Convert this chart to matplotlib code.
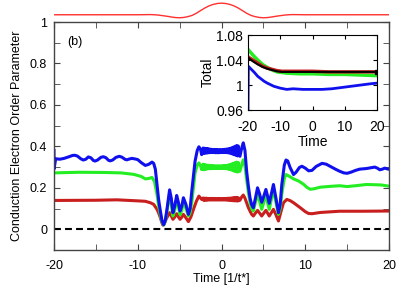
import numpy as np
import matplotlib
matplotlib.use("Agg")
import matplotlib.pyplot as plt
from matplotlib.ticker import MultipleLocator

plt.rcParams['font.family'] = ['Liberation Sans', 'DejaVu Sans']
plt.rcParams['axes.unicode_minus'] = False

# ---- pulse shown above the main panel ----
pulse_t = [-20, -10, -9, -8.5, -8, -7.5, -7, -6.5, -6, -5.5, -5, -4.5, -4, -3.5, -3, -2.5, -2, -1.5, -1, -0.5,
           0, 0.5, 1, 1.5, 2, 2.5, 3, 3.5, 4, 4.5, 5, 5.5, 6, 6.5, 7, 7.5, 8, 8.5, 9, 10, 20]
pulse_v = [0, 0, 0.01, 0.015, 0.0, -0.03, -0.08, -0.13, -0.19, -0.24, -0.26, -0.23, -0.16, -0.05, 0.13, 0.36,
           0.58, 0.76, 0.89, 0.97, 1.0, 0.97, 0.89, 0.76, 0.58, 0.36, 0.13, -0.05, -0.16, -0.23, -0.26, -0.24,
           -0.19, -0.13, -0.08, -0.03, 0.0, 0.015, 0.01, 0, 0]

# ---- main panel: order parameter ----
# fast oscillating plateau in the middle of the pulse, sampled between -2.2 and 2.1
band_t0, band_t1 = -2.2, 2.1
blue_band = [0.392, 0.366, 0.391, 0.367, 0.390, 0.368, 0.389, 0.369, 0.387, 0.370, 0.386, 0.370, 0.385, 0.370,
             0.385, 0.369, 0.385, 0.369, 0.384, 0.369, 0.384, 0.370, 0.384, 0.370, 0.385, 0.370, 0.386, 0.370,
             0.387, 0.369, 0.388, 0.368, 0.390, 0.366, 0.393, 0.363, 0.396, 0.360, 0.400, 0.357, 0.404, 0.354,
             0.402, 0.356]
green_band = [0.314, 0.287, 0.312, 0.289, 0.310, 0.291, 0.309, 0.292, 0.308, 0.292, 0.307, 0.293, 0.307, 0.293,
              0.306, 0.293, 0.306, 0.293, 0.306, 0.293, 0.306, 0.293, 0.306, 0.293, 0.307, 0.293, 0.307, 0.292,
              0.308, 0.291, 0.310, 0.289, 0.312, 0.287, 0.315, 0.284, 0.318, 0.281, 0.321, 0.278, 0.324, 0.276,
              0.322, 0.279]
red_band = [0.151, 0.139, 0.150, 0.140, 0.150, 0.140, 0.149, 0.141, 0.149, 0.141, 0.149, 0.141, 0.149, 0.141,
            0.148, 0.141, 0.148, 0.141, 0.148, 0.141, 0.148, 0.141, 0.148, 0.141, 0.148, 0.141, 0.149, 0.141,
            0.149, 0.140, 0.150, 0.140, 0.150, 0.139, 0.151, 0.138, 0.152, 0.137, 0.153, 0.137, 0.154, 0.136,
            0.152, 0.138]

blue_pre_t = [-20, -20, -19.8, -19.3, -18.8, -18.2, -17.8, -17.5, -17.2, -16.8, -16.5, -16.2, -15.9, -15.6,
              -15.3, -15.1, -14.8, -14.4, -14.1, -13.8, -13.5, -13.3, -13.0, -12.6, -12.2, -11.9, -11.5, -11.3,
              -11.0, -10.7, -10.3, -10.0, -9.6, -9.1, -8.7, -8.3, -8.1, -7.9, -7.7, -7.5, -7.3, -7.1, -6.9,
              -6.7, -6.5, -6.2, -6.0, -5.8, -5.6, -5.35, -5.15, -4.95, -4.75, -4.55, -4.25, -3.95, -3.75,
              -3.55, -3.16, -2.9, -2.7, -2.5, -2.37]
blue_pre_v = [0.38, 0.29, 0.34, 0.338, 0.342, 0.35, 0.356, 0.357, 0.353, 0.34, 0.334, 0.338, 0.349, 0.345,
              0.332, 0.329, 0.334, 0.347, 0.35, 0.345, 0.333, 0.33, 0.334, 0.347, 0.352, 0.348, 0.337, 0.335,
              0.339, 0.342, 0.339, 0.336, 0.322, 0.308, 0.313, 0.324, 0.318, 0.29, 0.216, 0.14, 0.088, 0.04,
              0.022, 0.045, 0.10, 0.19, 0.15, 0.08, 0.11, 0.163, 0.13, 0.088, 0.11, 0.152, 0.12, 0.072, 0.1,
              0.184, 0.328, 0.38, 0.398, 0.385, 0.36]
blue_post_t = [2.2, 2.4, 2.6, 2.8, 3.0, 3.2, 3.4, 3.6, 3.8, 4.05, 4.3, 4.55, 4.8, 5.05, 5.3, 5.5, 5.7, 5.95, 6.2,
               6.5, 6.8, 7.0, 7.2, 7.5, 7.7, 7.9, 8.2, 8.6, 8.9, 9.3, 9.6, 10.0, 10.4, 10.8, 11.3, 12.0, 12.5,
               13.0, 13.6, 14.1, 14.6, 15.0, 15.5, 16.0, 16.5, 17.3, 18.0, 18.3, 18.6, 18.9, 19.2, 19.5, 19.8, 20]
blue_post_v = [0.352, 0.39, 0.417, 0.38, 0.28, 0.21, 0.152, 0.118, 0.104, 0.15, 0.20, 0.17, 0.13, 0.16, 0.192,
               0.16, 0.125, 0.17, 0.216, 0.15, 0.08, 0.12, 0.216, 0.31, 0.334, 0.33, 0.297, 0.264, 0.275, 0.298,
               0.304, 0.295, 0.282, 0.284, 0.303, 0.318, 0.314, 0.303, 0.29, 0.28, 0.272, 0.27, 0.276, 0.284,
               0.29, 0.293, 0.298, 0.30, 0.295, 0.287, 0.29, 0.295, 0.291, 0.29]

green_pre_t = [-20, -17, -14, -12, -10.5, -9.6, -9.1, -8.7, -8.3, -8.0, -7.7, -7.5, -7.3, -7.1, -6.9, -6.7,
               -6.5, -6.2, -6.0, -5.8, -5.6, -5.35, -5.15, -4.95, -4.75, -4.55, -4.25, -3.95, -3.75, -3.55,
               -3.16, -2.9, -2.7, -2.5, -2.37]
green_pre_v = [0.272, 0.275, 0.274, 0.272, 0.265, 0.255, 0.243, 0.245, 0.25, 0.23, 0.168, 0.11, 0.07, 0.035,
               0.02, 0.04, 0.09, 0.17, 0.12, 0.064, 0.09, 0.145, 0.11, 0.07, 0.09, 0.135, 0.1, 0.064, 0.08, 0.13,
               0.272, 0.31, 0.32, 0.305, 0.288]
green_post_t = [2.2, 2.4, 2.6, 2.8, 3.0, 3.2, 3.4, 3.6, 3.8, 4.05, 4.3, 4.55, 4.8, 5.05, 5.3, 5.5, 5.7, 5.95,
                6.2, 6.5, 6.8, 7.0, 7.2, 7.5, 7.7, 8.0, 8.6, 9.2, 9.8, 10.2, 10.6, 11.0, 11.8, 13.0, 14.1, 15.0,
                16.0, 17.3, 19.0, 20]
green_post_v = [0.28, 0.31, 0.335, 0.305, 0.24, 0.18, 0.13, 0.1, 0.088, 0.13, 0.17, 0.135, 0.096, 0.13, 0.165,
                0.13, 0.096, 0.145, 0.19, 0.13, 0.072, 0.1, 0.17, 0.245, 0.264, 0.258, 0.243, 0.233, 0.217,
                0.202, 0.193, 0.195, 0.203, 0.207, 0.21, 0.206, 0.21, 0.216, 0.214, 0.208]

red_pre_t = [-20, -15, -12.5, -10, -9.1, -8.5, -8.1, -7.7, -7.5, -7.3, -7.15, -7.0, -6.8, -6.6, -6.2, -6.0,
             -5.8, -5.6, -5.35, -5.15, -4.95, -4.75, -4.55, -4.25, -3.95, -3.65, -3.35, -3.0, -2.7, -2.5, -2.37]
red_pre_v = [0.139, 0.140, 0.142, 0.137, 0.135, 0.128, 0.12, 0.096, 0.078, 0.056, 0.035, 0.02, 0.03, 0.05, 0.08,
             0.065, 0.048, 0.058, 0.075, 0.06, 0.048, 0.058, 0.072, 0.055, 0.037, 0.06, 0.096, 0.135, 0.16, 0.15,
             0.144]
red_post_t = [2.2, 2.4, 2.6, 2.8, 3.0, 3.2, 3.4, 3.6, 3.8, 4.05, 4.3, 4.55, 4.8, 5.05, 5.3, 5.5, 5.7, 5.95, 6.2,
              6.5, 6.8, 7.1, 7.4, 7.8, 8.2, 8.6, 9.0, 9.4, 10.0, 10.4, 10.8, 11.8, 14.1, 17.0, 20]
red_post_v = [0.14, 0.155, 0.165, 0.15, 0.128, 0.105, 0.088, 0.072, 0.064, 0.078, 0.091, 0.078, 0.064, 0.078,
              0.091, 0.078, 0.064, 0.08, 0.096, 0.07, 0.04, 0.085, 0.128, 0.144, 0.138, 0.128, 0.116, 0.104,
              0.085, 0.076, 0.075, 0.081, 0.087, 0.087, 0.088]

# ---- inset: total ----
ins_blue_t = [-20, -19.9, -18, -17, -15, -14, -12, -10, -8, -6, -3, 0, 3, 6, 9, 12, 15, 18, 20]
ins_blue_v = [0.955, 1.030, 1.020, 1.014, 1.006, 1.003, 0.998, 0.995, 0.993, 0.994, 0.993, 0.993, 0.993, 0.994,
              0.996, 0.998, 1.000, 1.002, 1.003]
ins_t = [-20, -18.5, -17, -15.5, -14, -12.5, -11, -9.5, -8, -4, 0, 5, 10, 15, 20]
ins_red_v = [1.045, 1.040, 1.035, 1.030, 1.027, 1.025, 1.023, 1.022, 1.022, 1.022, 1.022, 1.021, 1.021, 1.021, 1.021]
ins_green_v = [1.057, 1.048, 1.040, 1.033, 1.028, 1.024, 1.021, 1.020, 1.019, 1.018, 1.018, 1.017, 1.017, 1.016, 1.015]
ins_black_v = [1.044, 1.038, 1.033, 1.029, 1.026, 1.024, 1.022, 1.021, 1.021, 1.021, 1.021, 1.021, 1.021, 1.021, 1.021]

BLUE = '#1010ee'
GREEN = '#22ee22'
RED = '#c81e1e'


def series(pre_t, pre_v, band, post_t, post_v):
    bt = np.linspace(band_t0, band_t1, len(band))
    return (np.concatenate([pre_t, bt, post_t]),
            np.concatenate([pre_v, band, post_v]))


fig = plt.figure(figsize=(4.11, 2.88), dpi=100)
ax = fig.add_axes([0.1314, 0.132, 0.8151, 0.7916])
top = fig.add_axes([0.1314, 0.9306, 0.8151, 0.0625])
ins = fig.add_axes([0.6034, 0.618, 0.3139, 0.2604])

# pulse strip
top.plot(pulse_t, pulse_v, color='#ff3030', lw=1.0)
top.set_xlim(-20, 20)
top.set_ylim(-0.45, 1.1)
top.axis('off')

# main curves
ax.axhline(0, color='k', lw=1.5, ls=(0, (3.3, 2)))
for pre_t, pre_v, band, post_t, post_v, c in [
        (red_pre_t, red_pre_v, red_band, red_post_t, red_post_v, RED),
        (green_pre_t, green_pre_v, green_band, green_post_t, green_post_v, GREEN),
        (blue_pre_t, blue_pre_v, blue_band, blue_post_t, blue_post_v, BLUE)]:
    t, v = series(pre_t, pre_v, band, post_t, post_v)
    ax.plot(t, v, color=c, lw=2.2, solid_joinstyle='round')

ax.set_xlim(-20, 20)
ax.set_ylim(-0.1, 1.0)
ax.xaxis.set_major_locator(MultipleLocator(10))
ax.xaxis.set_minor_locator(MultipleLocator(5))
ax.yaxis.set_minor_locator(MultipleLocator(0.1))
ax.set_yticks([0, 0.2, 0.4, 0.6, 0.8, 1.0])
ax.set_yticklabels(['0', '0.2', '0.4', '0.6', '0.8', '1'])
ax.tick_params(which='both', direction='in', top=True, right=True, labelsize=9, color='#444444', length=4)
ax.tick_params(axis='x', pad=7.5)
ax.tick_params(axis='y', pad=5)
for s in ax.spines.values():
    s.set_color('#444444')
    s.set_linewidth(1.0)
ax.set_xlabel('Time [1/t*]', fontsize=9, labelpad=0.5)
ax.set_ylabel('Conduction Electron Order Parameter', fontsize=9, labelpad=5)
ax.text(0.039, 0.912, '(b)', transform=ax.transAxes, fontsize=9, va='center')

# inset
ins.plot(ins_t, ins_green_v, color=GREEN, lw=2.5)
ins.plot(ins_t, ins_red_v, color=RED, lw=2.5)
ins.plot(ins_t, ins_black_v, color='k', lw=1.5)
ins.plot(ins_t[-1], ins_black_v[-1], 's', color='k', ms=3)
ins.plot(ins_blue_t, ins_blue_v, color=BLUE, lw=2)
ins.set_xlim(-20, 20)
ins.set_ylim(0.96, 1.08)
ins.set_xticks([-20, -10, 0, 10, 20])
ins.set_yticks([0.96, 1.0, 1.04, 1.08])
ins.set_yticklabels(['0.96', '1', '1.04', '1.08'])
ins.tick_params(direction='in', top=True, right=True, labelsize=10, length=3)
ins.tick_params(axis='x', pad=7.5)
ins.set_xlabel('Time', fontsize=10, labelpad=0.5)
ins.set_ylabel('Total', fontsize=10, labelpad=1)

fig.savefig('out.png', dpi=100)
